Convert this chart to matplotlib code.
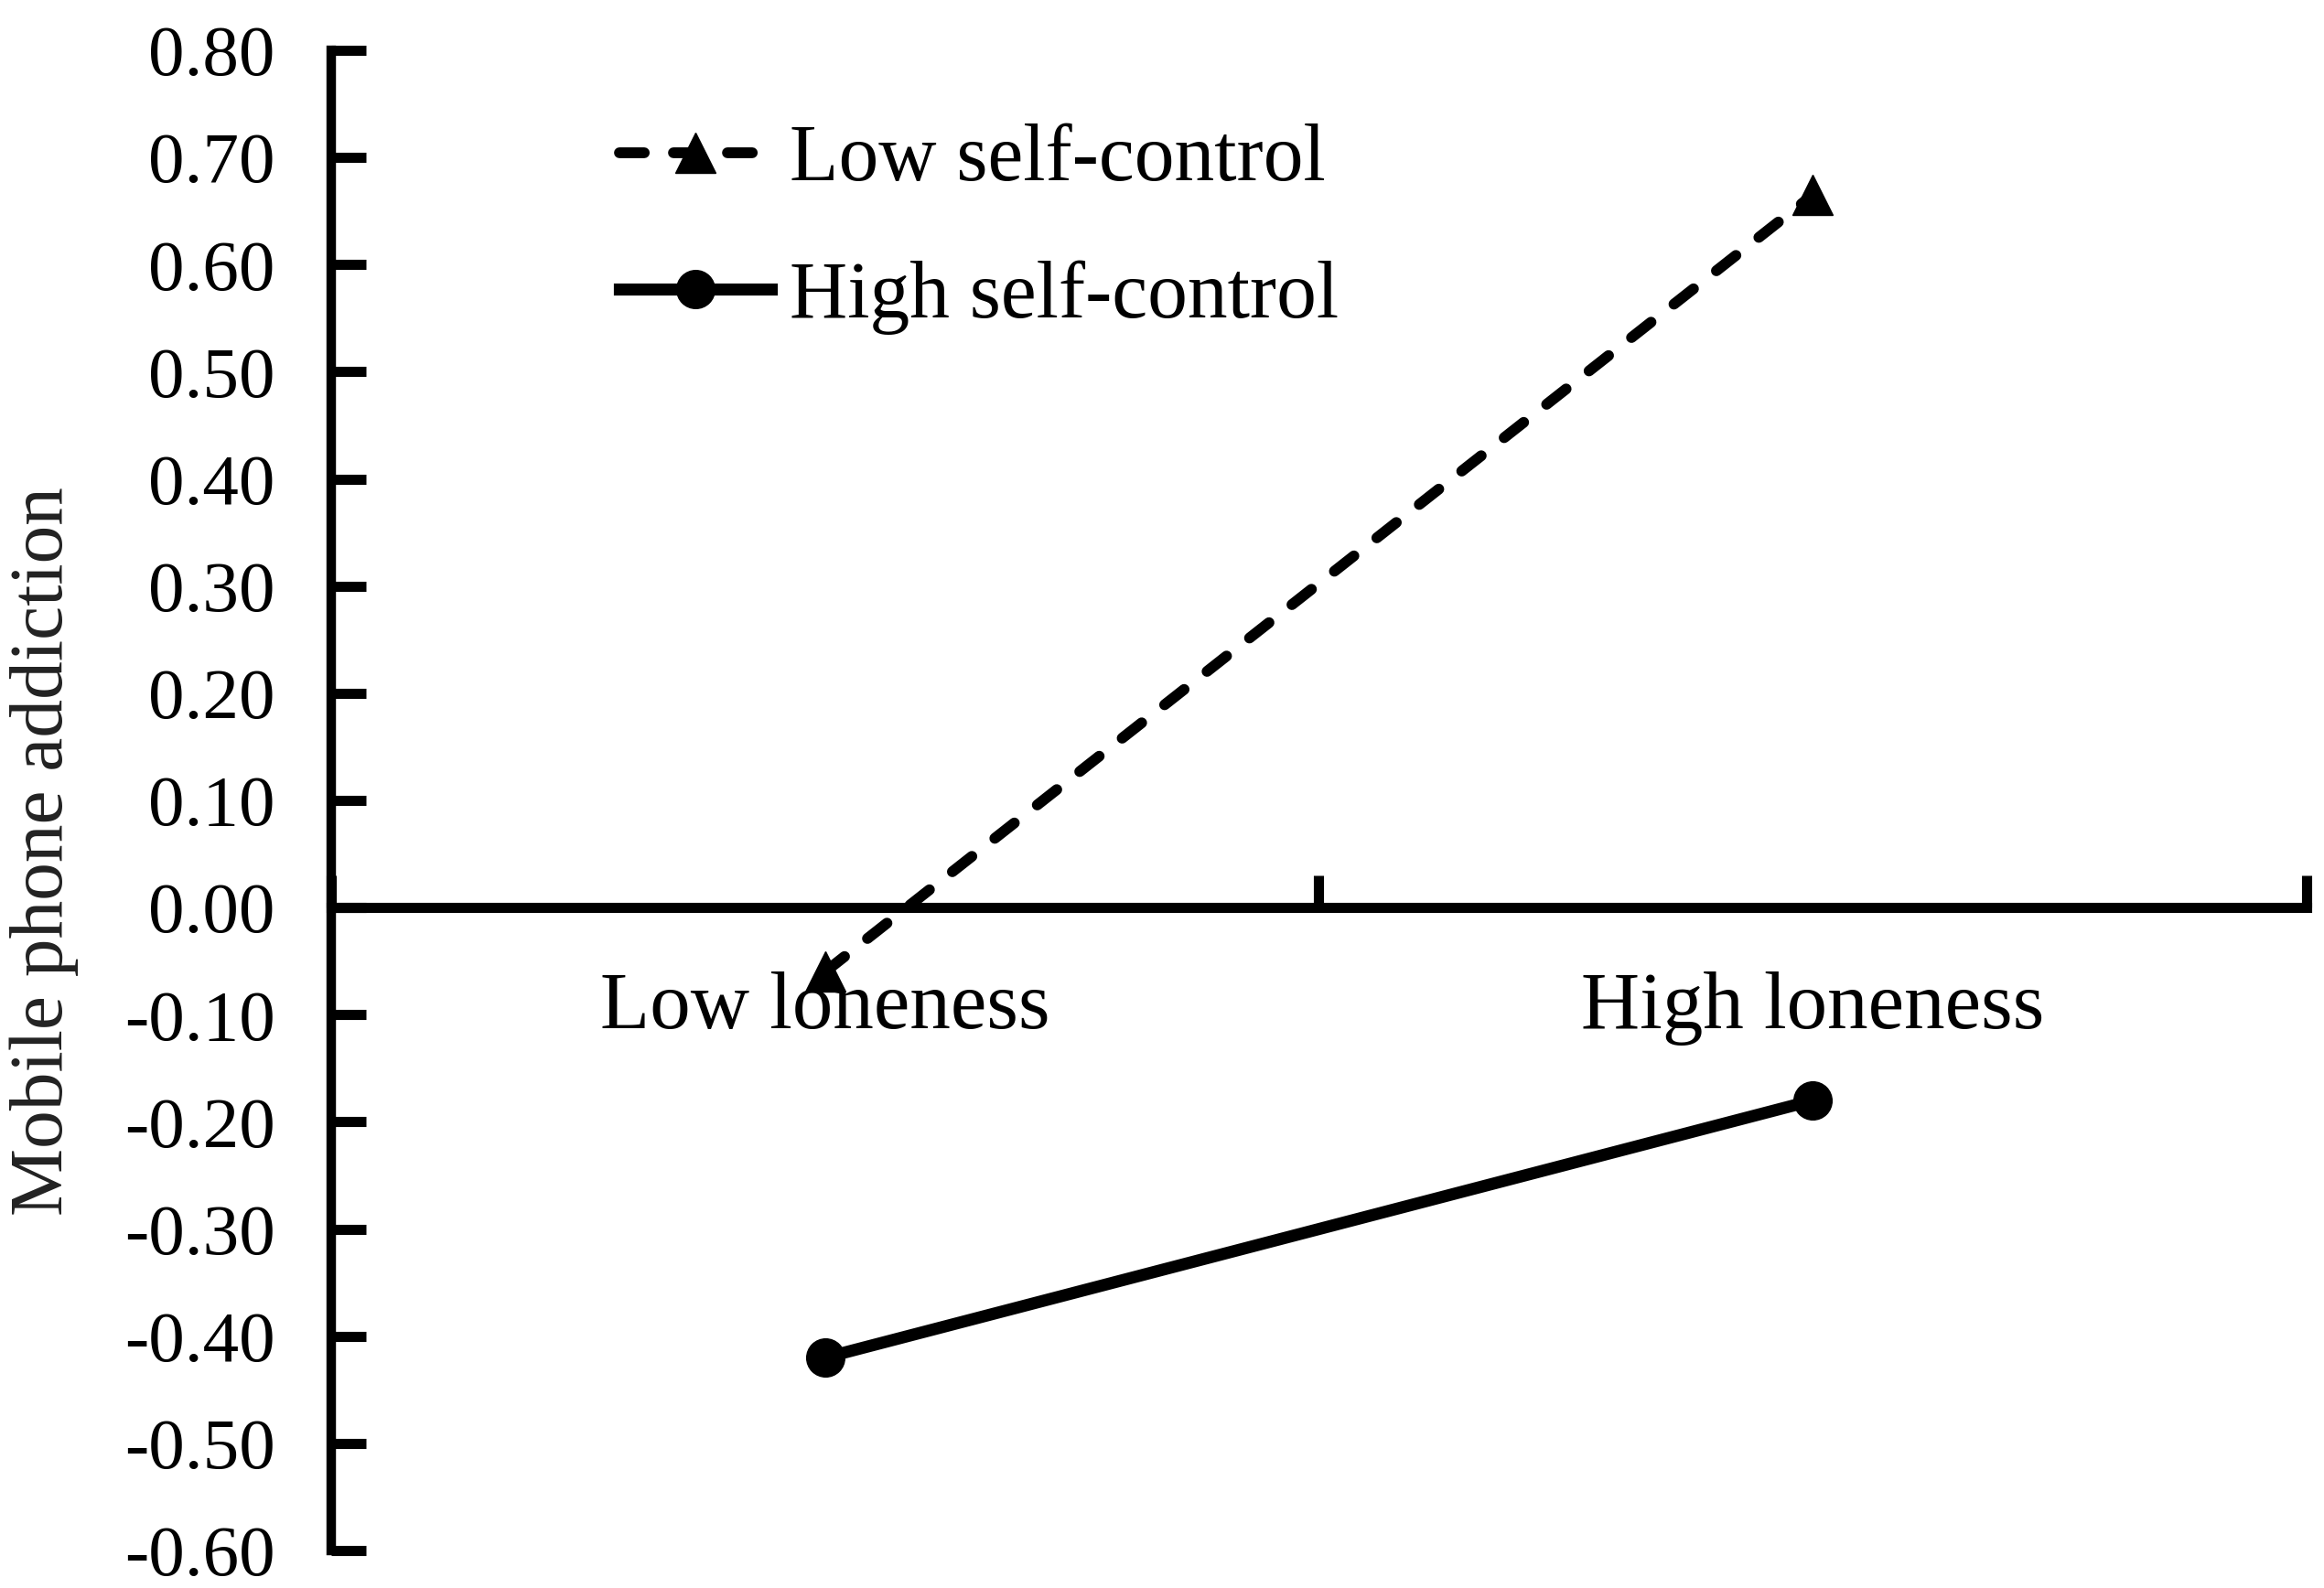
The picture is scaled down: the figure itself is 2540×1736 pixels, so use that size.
import matplotlib
matplotlib.use("Agg")
import matplotlib.pyplot as plt
from matplotlib.ticker import FixedLocator, FixedFormatter, NullFormatter

plt.rcParams['font.family'] = ['Liberation Serif', 'DejaVu Serif']
plt.rcParams['axes.unicode_minus'] = False

# ---- data ----
categories = ["Low loneness", "High loneness"]
low_self_control = [-0.06, 0.665]
high_self_control = [-0.42, -0.18]
series_labels = ["Low self-control", "High self-control"]
y_ticks = [0.80, 0.70, 0.60, 0.50, 0.40, 0.30, 0.20, 0.10, 0.00,
           -0.10, -0.20, -0.30, -0.40, -0.50, -0.60]
y_tick_labels = ["%.2f" % v for v in y_ticks]
y_label = "Mobile phone addiction"

fig = plt.figure(figsize=(25.4, 17.36), dpi=100)
ax = fig.add_axes([0.1425, 0.0236, 0.8500, 0.9447])

xpos = [0.5, 1.5]
ax.plot(xpos, low_self_control, color='black', lw=8.5, ls=(0, (2.3, 2.7)),
        dash_capstyle='round', marker='^', ms=32, label=series_labels[0])
ax.plot(xpos, high_self_control, color='black', lw=9.5, ls='-',
        marker='o', ms=30, label=series_labels[1])

ax.set_xlim(0, 2)
ax.set_ylim(-0.60, 0.80)

for s in ['top', 'right']:
    ax.spines[s].set_visible(False)
ax.spines['bottom'].set_position(('data', 0))
ax.spines['bottom'].set_linewidth(8)
ax.spines['left'].set_linewidth(7.5)
ax.spines['bottom'].set_capstyle('projecting')
ax.spines['left'].set_capstyle('projecting')

ax.yaxis.set_major_locator(FixedLocator(y_ticks))
ax.yaxis.set_major_formatter(FixedFormatter(y_tick_labels))
ax.tick_params(axis='y', direction='in', length=27, width=8, pad=44,
               labelsize=57)

ax.xaxis.set_major_locator(FixedLocator([0, 1, 2]))
ax.xaxis.set_major_formatter(NullFormatter())
ax.xaxis.set_minor_locator(FixedLocator(xpos))
ax.xaxis.set_minor_formatter(FixedFormatter(categories))
ax.tick_params(axis='x', which='major', direction='in', length=25, width=8)
ax.tick_params(axis='x', which='minor', length=0, pad=50, labelsize=64)

ax.set_ylabel(y_label, fontsize=60, color='#222222')
ax.yaxis.set_label_coords(-0.128, 0.466)

leg = ax.legend(loc='upper left', bbox_to_anchor=(0.146, 0.951),
                frameon=False, fontsize=63, handlelength=1.9,
                handletextpad=0.22, labelspacing=0.78, borderpad=0,
                borderaxespad=0)

fig.savefig("out.png", dpi=100, facecolor='white')
